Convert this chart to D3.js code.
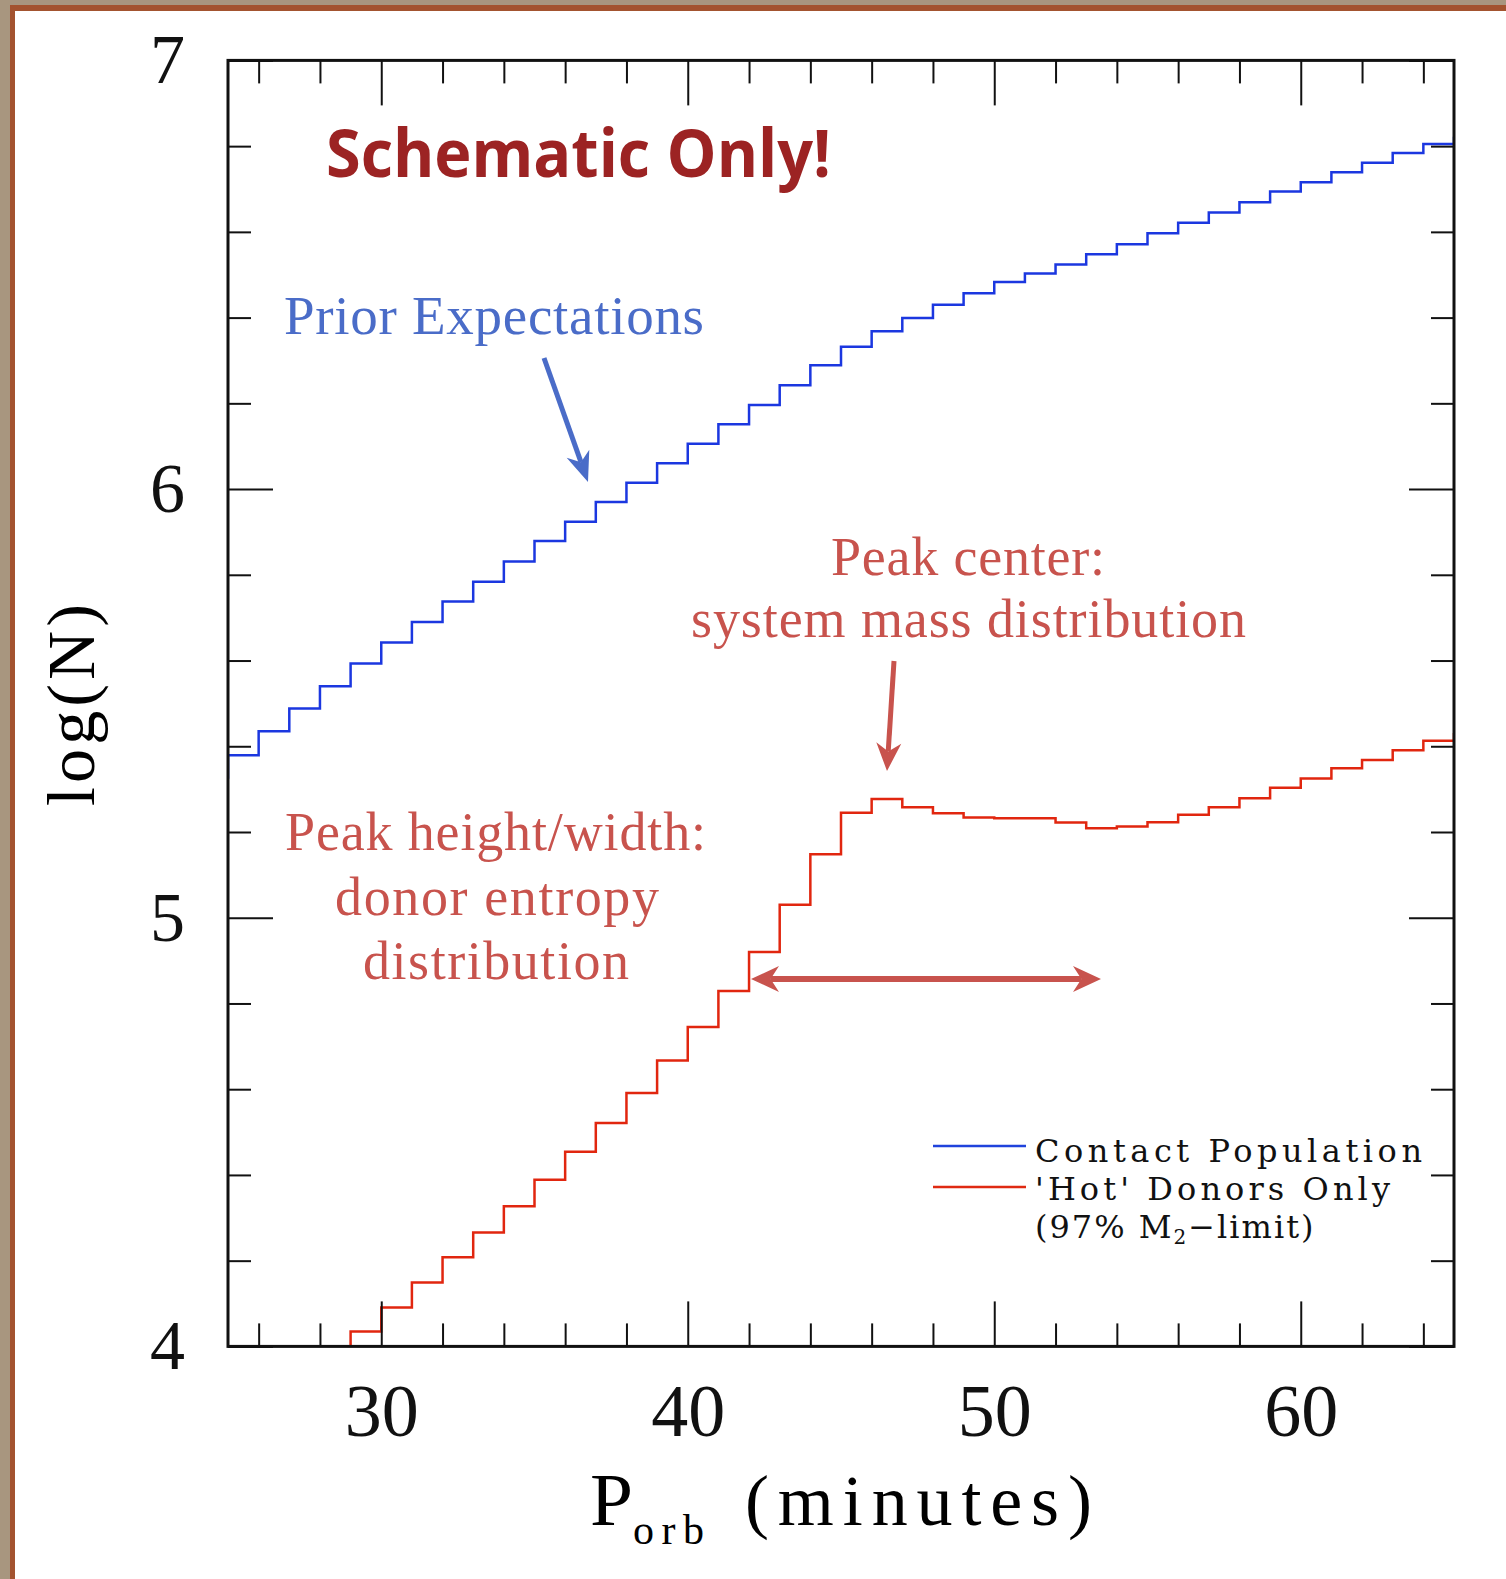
<!DOCTYPE html>
<html>
<head>
<meta charset="utf-8">
<script src="https://cdn.jsdelivr.net/npm/d3@7"></script>
<style>
body { margin: 0; background: #fff; }
svg { display: block; }
</style>
</head>
<body>
<div id="chart"></div>
<script>
// 1-minute bins, left edge in minutes
const contactBins = d3.range(24, 66);
const contactLogN = [5.327, 5.379, 5.435, 5.488, 5.540, 5.593, 5.642, 5.690, 5.738, 5.784,
                     5.831, 5.879, 5.924, 5.970, 6.015, 6.060, 6.106, 6.151, 6.196, 6.242,
                     6.289, 6.332, 6.368, 6.399, 6.430, 6.457, 6.483, 6.503, 6.524, 6.548,
                     6.571, 6.597, 6.621, 6.645, 6.669, 6.694, 6.716, 6.739, 6.761, 6.784,
                     6.805, 6.819];

const hotBins = d3.range(28, 66);
const hotLogN = [3.970, 4.035, 4.091, 4.149, 4.208, 4.266, 4.327, 4.389, 4.454, 4.521,
                 4.591, 4.667, 4.745, 4.829, 4.920, 5.030, 5.148, 5.245, 5.277, 5.258,
                 5.244, 5.234, 5.232, 5.232, 5.222, 5.209, 5.213, 5.223, 5.240, 5.258,
                 5.279, 5.303, 5.325, 5.349, 5.368, 5.391, 5.413, 5.428];

const xMajor = [30, 40, 50, 60];
const xMinor = [26, 28, 32, 34, 36, 38, 42, 44, 46, 48, 52, 54, 56, 58, 62, 64];
const yMajor = [4, 5, 6, 7];
const yMinor = [4.2, 4.4, 4.6, 4.8, 5.2, 5.4, 5.6, 5.8, 6.2, 6.4, 6.6, 6.8];

const legendLabels = ["Contact Population", "'Hot' Donors Only"];

const W = 1506, H = 1579;
const pLeft = 228, pRight = 1454, pTop = 60.4, pBottom = 1346.4;
const serif = "'Liberation Serif', 'DejaVu Serif', serif";
const legFont = "'DejaVu Serif', serif";

const svg = d3.select("#chart").append("svg")
    .attr("width", W)
    .attr("height", H);

// frame / background
svg.append("rect").attr("width", W).attr("height", H).attr("fill", "#a8967f");
svg.append("rect").attr("x", 10).attr("y", 5).attr("width", W - 10).attr("height", H - 5).attr("fill", "#a3532f");
svg.append("rect").attr("x", 15).attr("y", 11).attr("width", W - 15).attr("height", H - 11).attr("fill", "#fff");

const x = d3.scaleLinear().domain([25, 65]).range([pLeft, pRight]);
const y = d3.scaleLinear().domain([4, 7]).range([pBottom, pTop]);

svg.append("clipPath").attr("id", "plotclip")
  .append("rect")
    .attr("x", pLeft).attr("y", pTop)
    .attr("width", pRight - pLeft).attr("height", pBottom - pTop);

function stepPath(bins, vals) {
    let pts = bins.map((b, i) => [b, vals[i]]);
    pts.push([bins[bins.length - 1] + 1, vals[vals.length - 1]]);
    return d3.line()
        .x(d => x(d[0]))
        .y(d => y(d[1]))
        .curve(d3.curveStepAfter)(pts);
}

let plot = svg.append("g").attr("clip-path", "url(#plotclip)");
plot.append("path")
    .attr("d", stepPath(contactBins, contactLogN))
    .attr("fill", "none")
    .attr("stroke", "#1b37e0")
    .attr("stroke-width", 2.5);
plot.append("path")
    .attr("d", stepPath(hotBins, hotLogN))
    .attr("fill", "none")
    .attr("stroke", "#e1260f")
    .attr("stroke-width", 2.5);

// axes, ticks pointing inward on all four sides
function styleAxis(g) {
    g.select(".domain").remove();
    g.selectAll(".tick line").attr("stroke", "#111").attr("stroke-width", 2);
    g.attr("font-family", serif).attr("fill", "#111");
    g.selectAll("text").attr("fill", "#111");
}

svg.append("g").attr("transform", `translate(0,${pBottom})`)
    .call(d3.axisBottom(x).tickValues(xMinor).tickSize(-23).tickFormat(""))
    .call(styleAxis);
svg.append("g").attr("transform", `translate(0,${pBottom})`)
    .call(d3.axisBottom(x).tickValues(xMajor).tickSize(-45).tickPadding(37))
    .call(styleAxis)
    .attr("font-size", 74);
svg.append("g").attr("transform", `translate(0,${pTop})`)
    .call(d3.axisTop(x).tickValues(xMinor).tickSize(-23).tickFormat(""))
    .call(styleAxis);
svg.append("g").attr("transform", `translate(0,${pTop})`)
    .call(d3.axisTop(x).tickValues(xMajor).tickSize(-45).tickFormat(""))
    .call(styleAxis);

svg.append("g").attr("transform", `translate(${pLeft},0)`)
    .call(d3.axisLeft(y).tickValues(yMinor).tickSize(-23).tickFormat(""))
    .call(styleAxis);
svg.append("g").attr("transform", `translate(${pLeft},0)`)
    .call(d3.axisLeft(y).tickValues(yMajor).tickSize(-45).tickPadding(43).tickFormat(d3.format("d")))
    .call(styleAxis)
    .attr("font-size", 70);
svg.append("g").attr("transform", `translate(${pRight},0)`)
    .call(d3.axisRight(y).tickValues(yMinor).tickSize(-23).tickFormat(""))
    .call(styleAxis);
svg.append("g").attr("transform", `translate(${pRight},0)`)
    .call(d3.axisRight(y).tickValues(yMajor).tickSize(-45).tickFormat(""))
    .call(styleAxis);

svg.append("rect")
    .attr("x", pLeft).attr("y", pTop)
    .attr("width", pRight - pLeft).attr("height", pBottom - pTop)
    .attr("fill", "none")
    .attr("stroke", "#111")
    .attr("stroke-width", 3);

// axis titles
svg.append("text")
    .attr("x", 590).attr("y", 1525)
    .attr("font-family", serif).attr("font-size", 73)
    .attr("textLength", 43).attr("lengthAdjust", "spacingAndGlyphs")
    .text("P");
svg.append("text")
    .attr("x", 633).attr("y", 1544)
    .attr("font-family", serif).attr("font-size", 42)
    .attr("textLength", 71)
    .text("orb");
svg.append("text")
    .attr("x", 745).attr("y", 1525)
    .attr("font-family", serif).attr("font-size", 72)
    .attr("textLength", 347)
    .text("(minutes)");

svg.append("text")
    .attr("transform", "translate(94,705) rotate(-90)")
    .attr("text-anchor", "middle")
    .attr("font-family", serif).attr("font-size", 68)
    .attr("textLength", 202)
    .text("log(N)");

// legend
const legColors = ["#2043dc", "#df2a12"];
const legY = [1146, 1187];
legendLabels.forEach((lab, i) => {
    svg.append("line")
        .attr("x1", 933).attr("x2", 1026)
        .attr("y1", legY[i]).attr("y2", legY[i])
        .attr("stroke", legColors[i]).attr("stroke-width", 2.5);
});
svg.append("text")
    .attr("x", 1035).attr("y", 1162)
    .attr("font-family", legFont).attr("font-size", 32)
    .attr("textLength", 387).attr("fill", "#111")
    .text(legendLabels[0]);
svg.append("text")
    .attr("x", 1035).attr("y", 1200)
    .attr("font-family", legFont).attr("font-size", 32)
    .attr("textLength", 355).attr("fill", "#111")
    .text(legendLabels[1]);
let l3 = svg.append("text")
    .attr("x", 1035).attr("y", 1238)
    .attr("font-family", legFont).attr("font-size", 32)
    .attr("letter-spacing", 2).attr("fill", "#111");
l3.append("tspan").text("(97% M");
l3.append("tspan").attr("font-size", 20).attr("dy", 6).text("2");
l3.append("tspan").attr("dy", -6).text("\u2212limit)");

// annotations
function arrowHead(g, x1, y1, x2, y2, len, wid, color) {
    const a = Math.atan2(y2 - y1, x2 - x1);
    const ux = Math.cos(a), uy = Math.sin(a);
    const px = -uy, py = ux;
    const bx = x2 - ux * len, by = y2 - uy * len;
    const nx = x2 - ux * len * 0.7, ny = y2 - uy * len * 0.7;
    g.append("path")
        .attr("d", `M${x2},${y2} L${bx + px * wid / 2},${by + py * wid / 2} L${nx},${ny} L${bx - px * wid / 2},${by - py * wid / 2} Z`)
        .attr("fill", color);
    return [nx, ny];
}

function arrow(x1, y1, x2, y2, color, w, len, wid) {
    let g = svg.append("g");
    const n = arrowHead(g, x1, y1, x2, y2, len, wid, color);
    g.append("line")
        .attr("x1", x1).attr("y1", y1).attr("x2", n[0]).attr("y2", n[1])
        .attr("stroke", color).attr("stroke-width", w);
}

svg.append("text")
    .attr("x", 326).attr("y", 177)
    .attr("font-family", "'Open Sans', 'Noto Sans', sans-serif")
    .attr("font-weight", 700).attr("font-size", 67)
    .attr("textLength", 505).attr("lengthAdjust", "spacingAndGlyphs")
    .attr("fill", "#9c2323")
    .text("Schematic Only!");

const blueNote = "#4a6cc8", redNote = "#c8534d";

svg.append("text")
    .attr("x", 284).attr("y", 334)
    .attr("font-family", serif).attr("font-size", 55)
    .attr("textLength", 420).attr("fill", blueNote)
    .text("Prior Expectations");
arrow(544, 358, 588, 482, blueNote, 5, 30, 24);

const redLines = [
    ["Peak center:", 831, 575, 274],
    ["system mass distribution", 691, 637, 555],
    ["Peak height/width:", 285, 850, 421],
    ["donor entropy", 335, 915, 324],
    ["distribution", 363, 979, 266]
];
redLines.forEach(r => {
    svg.append("text")
        .attr("x", r[1]).attr("y", r[2])
        .attr("font-family", serif).attr("font-size", 54)
        .attr("textLength", r[3]).attr("fill", redNote)
        .text(r[0]);
});
arrow(894, 661, 887, 771, redNote, 5, 28, 25);

// width arrow (double headed)
(function () {
    let g = svg.append("g");
    const a = arrowHead(g, 1000, 979, 751, 979, 28, 26, redNote);
    const b = arrowHead(g, 800, 979, 1101, 979, 28, 26, redNote);
    g.append("line")
        .attr("x1", a[0]).attr("y1", 979).attr("x2", b[0]).attr("y2", 979)
        .attr("stroke", redNote).attr("stroke-width", 6);
})();
</script>
</body>
</html>
